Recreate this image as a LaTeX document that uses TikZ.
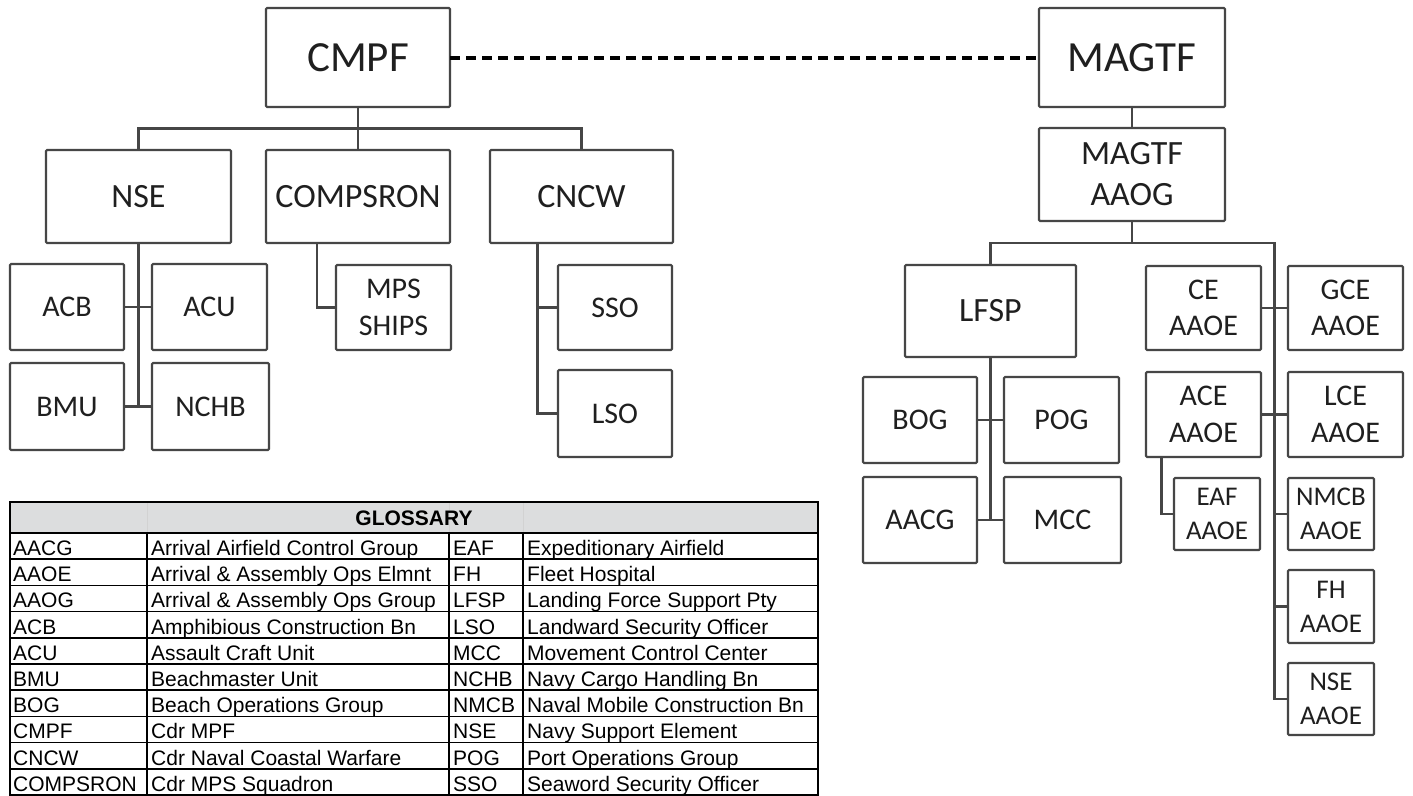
\documentclass[tikz,border=0pt]{standalone}
\usepackage{fontspec}
\setmainfont{Carlito}
\newfontfamily\arialf{Liberation Sans}
\usetikzlibrary{calc}
\definecolor{hdr}{RGB}{220,221,222}
\definecolor{boxline}{RGB}{70,70,70}
\newcommand\fL{\fontsize{43}{50}\selectfont}
\newcommand\fM{\fontsize{34}{41}\selectfont}
\newcommand\fS{\fontsize{30}{36.5}\selectfont}
\newcommand\fT{\fontsize{27}{34}\selectfont}
\newcommand\gf{\arialf\fontsize{21}{24}\selectfont}
\newcommand\bx[7]{\node[orgbox,font=#6,minimum width={#4-#2},minimum height={#5-#3}] (#1) at ({(#2+#4)/2},{(#3+#5)/2}) {#7};}
\begin{document}
\begin{tikzpicture}[x=1pt,y=-1pt,
  orgbox/.style={draw=boxline,line width=2.1pt,rounded corners=1.2pt,inner sep=0pt,outer sep=0pt,align=center,text=black!88},
  conn/.style={draw=boxline,line width=2.1pt},
  gtxt/.style={anchor=base west,inner sep=0pt,font=\gf},
  gline/.style={draw=black,line width=1.7pt}]
\useasboundingbox (0,0) rectangle (1413,795);
\fill[white] (0,0) rectangle (1413,795);

% ---------- left tree ----------
\bx{cmpf}{266}{8}{450}{107}{\fL}{CMPF}
\bx{nse}{46}{150}{231}{243}{\fM}{NSE}
\bx{compsron}{266}{150}{450}{243}{\fM}{COMPSRON}
\bx{cncw}{490}{150}{673}{243}{\fM}{CNCW}
\bx{acb}{10}{264}{124}{350}{\fS}{ACB}
\bx{acu}{152}{264}{267}{350}{\fS}{ACU}
\bx{bmu}{10}{363}{124}{450}{\fS}{BMU}
\bx{nchb}{152}{363}{269}{450}{\fS}{NCHB}
\bx{mps}{336}{265}{451}{350}{\fS}{MPS\\SHIPS}
\bx{sso}{558}{265}{672}{350}{\fS}{SSO}
\bx{lso}{558}{370}{672}{457}{\fS}{LSO}

% ---------- right tree ----------
\bx{magtf}{1039}{8}{1225}{107}{\fL}{MAGTF}
\bx{aaog}{1039}{128}{1225}{221}{\fM}{MAGTF\\AAOG}
\bx{lfsp}{905}{265}{1076}{357}{\fM}{LFSP}
\bx{bog}{863}{377}{977}{463}{\fS}{BOG}
\bx{pog}{1004}{377}{1119}{463}{\fS}{POG}
\bx{aacg}{863}{477}{977}{563}{\fS}{AACG}
\bx{mcc}{1004}{477}{1121}{563}{\fS}{MCC}
\bx{ce}{1146}{266}{1261}{350}{\fS}{CE\\AAOE}
\bx{gce}{1288}{266}{1403}{350}{\fS}{GCE\\AAOE}
\bx{ace}{1146}{372}{1261}{457}{\fS}{ACE\\AAOE}
\bx{lce}{1288}{372}{1403}{457}{\fS}{LCE\\AAOE}
\bx{eaf}{1174}{478}{1260}{550}{\fT}{EAF\\AAOE}
\bx{nmcb}{1288}{478}{1374}{550}{\fT}{NMCB\\AAOE}
\bx{fh}{1288}{570}{1374}{643}{\fT}{FH\\AAOE}
\bx{nsea}{1288}{663}{1374}{735}{\fT}{NSE\\AAOE}

% ---------- connectors ----------
\draw[line width=4pt,dash pattern=on 10pt off 6pt] (cmpf.east) -- (magtf.west);

\coordinate (b1) at ($(cmpf.south)!.5!(compsron.north)$);
\draw[conn] (cmpf.south) -- (compsron.north);
\draw[conn] (nse.north) |- (b1) -| (cncw.north);
\draw[conn] (nse.south) -- (nse.south |- bmu.east);
\draw[conn] (acb.east) -- (acu.west);
\draw[conn] (bmu.east) -- (nchb.west);
\draw[conn] ([xshift=-41pt]compsron.south) |- (mps.west);
\draw[conn] ([xshift=-44pt]cncw.south) coordinate (t1) |- (lso.west);
\draw[conn] (sso.west) -- (sso.west -| t1);

\draw[conn] (magtf.south) -- (aaog.north);
\coordinate (b2) at ($(aaog.south)!.5!(aaog.south |- lfsp.north)$);
\coordinate (t2) at ($(ce.east)!.5!(gce.west)$);
\draw[conn] (aaog.south) -- (b2);
\draw[conn] (lfsp.north) |- (b2 -| t2) -- (t2 |- nsea.west) -- (nsea.west);
\draw[conn] (ce.east) -- (gce.west);
\draw[conn] (ace.east) -- (lce.west);
\draw[conn] (nmcb.west) -- (nmcb.west -| t2);
\draw[conn] (fh.west) -- (fh.west -| t2);
\draw[conn] (lfsp.south) -- (lfsp.south |- aacg.east);
\draw[conn] (bog.east) -- (pog.west);
\draw[conn] (aacg.east) -- (mcc.west);
\draw[conn] ([xshift=-42pt]ace.south) |- (eaf.west);

% ---------- glossary ----------
\fill[hdr] (10,502) rectangle (818,533);
\foreach \cx in {147,449,523} \draw[gray!35,line width=0.6pt] (\cx,502) -- (\cx,533);
\node[anchor=base,inner sep=0pt,font={\gf\bfseries}] (gtitle) at (414,525.5) {GLOSSARY};
\foreach \k in {0,...,10} \draw[gline] (10,{533+26.2*\k}) -- (818,{533+26.2*\k});
\foreach \cx in {147,449,523} \draw[gline] (\cx,533) -- (\cx,795);
\foreach \a/\b/\c/\d [count=\i from 0] in {
  AACG/Arrival Airfield Control Group/EAF/Expeditionary Airfield,
  AAOE/Arrival \& Assembly Ops Elmnt/FH/Fleet Hospital,
  AAOG/Arrival \& Assembly Ops Group/LFSP/Landing Force Support Pty,
  ACB/Amphibious Construction Bn/LSO/Landward Security Officer,
  ACU/Assault Craft Unit/MCC/Movement Control Center,
  BMU/Beachmaster Unit/NCHB/Navy Cargo Handling Bn,
  BOG/Beach Operations Group/NMCB/Naval Mobile Construction Bn,
  CMPF/Cdr MPF/NSE/Navy Support Element,
  CNCW/Cdr Naval Coastal Warfare/POG/Port Operations Group,
  COMPSRON/Cdr MPS Squadron/SSO/Seaword Security Officer}
{
  \node[gtxt] (ga\i) at (13,{555.5+26.2*\i}) {\a};
  \node[gtxt] (gb\i) at (151,{555.5+26.2*\i}) {\b};
  \node[gtxt] (gc\i) at (453,{555.5+26.2*\i}) {\c};
  \node[gtxt] (gd\i) at (527,{555.5+26.2*\i}) {\d};
}
\draw[black,line width=2.4pt] (10,502) rectangle (818,795);
\end{tikzpicture}
\end{document}
